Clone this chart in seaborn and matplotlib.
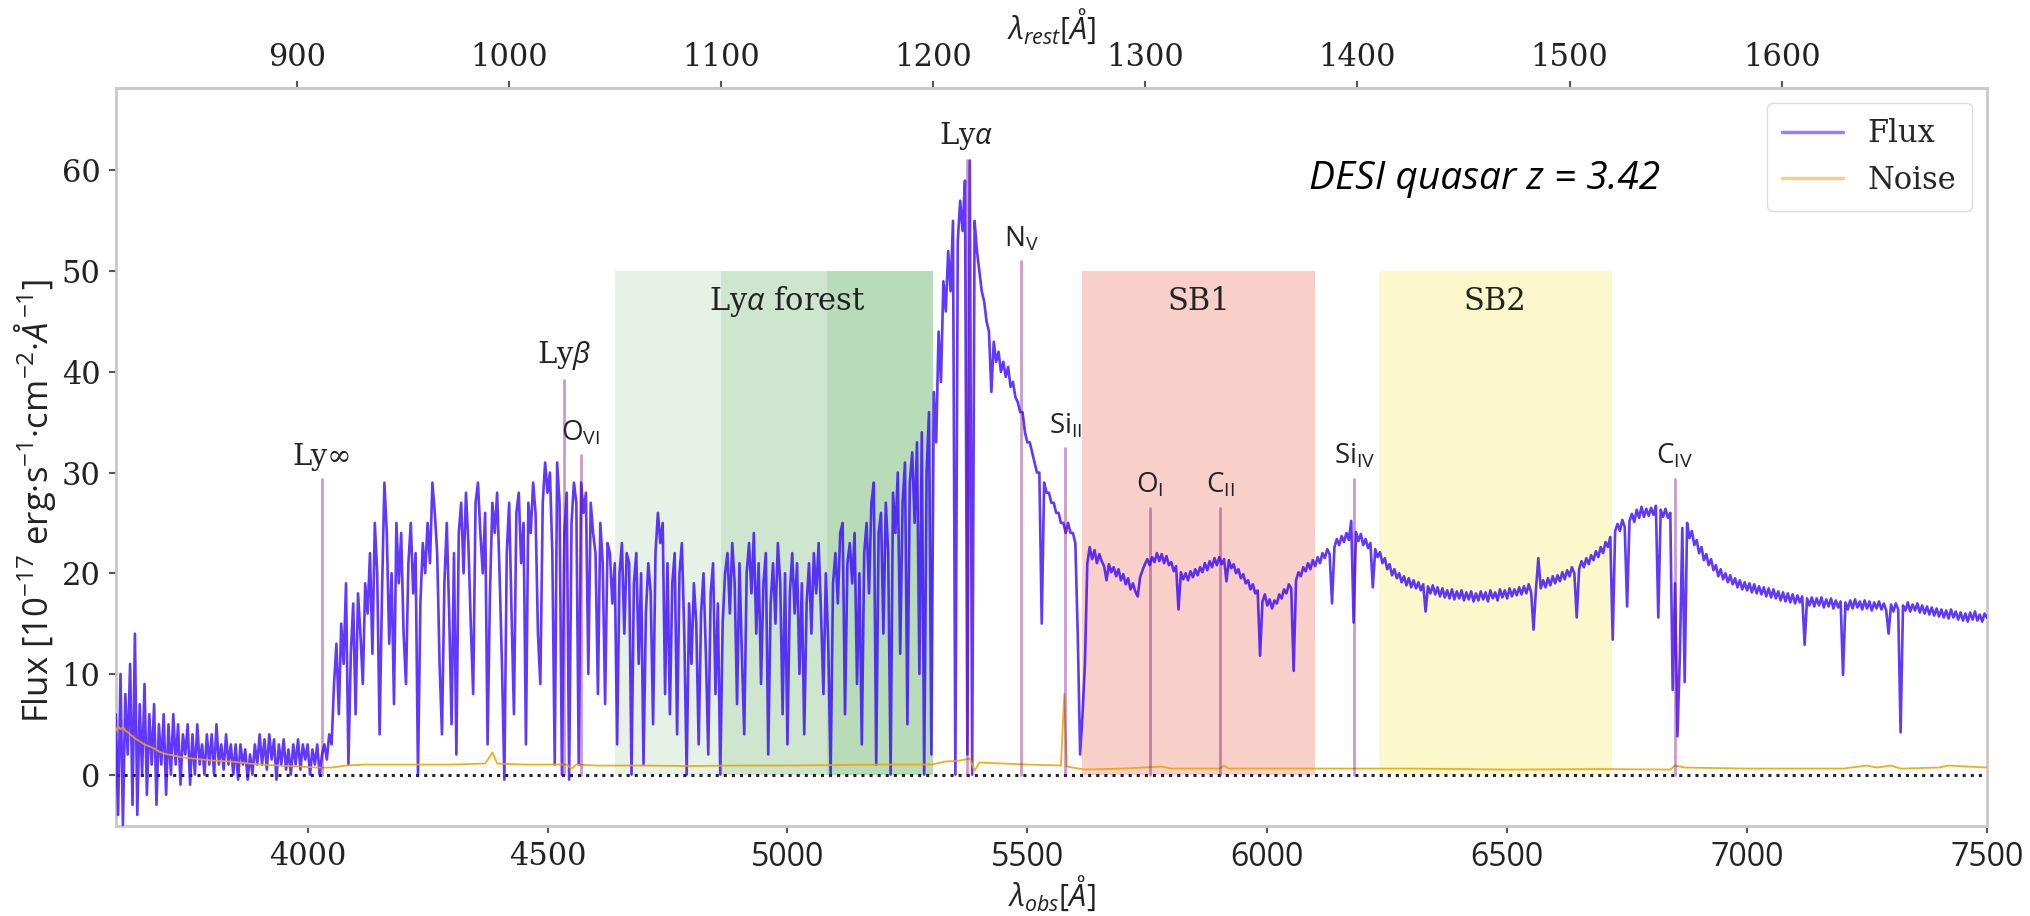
import numpy as np
import matplotlib
matplotlib.use('Agg')
import matplotlib.pyplot as plt
import seaborn as sns
import pandas as pd

# ---------------- data ----------------
Z = 3.42
STEP = 5.0

# observed flux, 5 A sampling, by segment (start wavelength given separately)
flux_blue = [6, -4, 10, -5, 8, 2, 11, -3, 14, -4,
             7, 0, 9, -2, 6, 1, 7, -3, 5, 1,
             6, -2, 5, 0, 6, 1, 5, -1, 4, 2,
             5, -1, 4, 0, 5, 1, 3, 0, 4, 1,
             4, 0, 5, 1, 3, 0.5, 4, 1, 3, 0,
             3, -0.5, 3, 1, 2.5, -0.5, 2, 0, 3, 1,
             4, 1, 3.5, 0.5, 4, 1.5, 3.5, -0.5, 3, 1,
             3.5, 0.5, 2.5, 0, 3, 1, 3.5, 0.5, 3, 1.5,
             3, 0, 2.5, 1, 3, 0, 2, 3, 1.5, 4]
flux_forest = [3, 9, 13, 6, 15, 11, 19, 1, 12, 17,
               6, 18, 14, 9, 19, 16, 22, 12, 25, 20,
               4, 18, 29, 24, 13, 20, 7, 25, 19, 24,
               14, 9, 21, 25, 18, 22, 0, 17, 23, 20,
               25, 21, 29, 26, 22, 11, 4, 19, 25, 16,
               5, 22, 2, 24, 27, 20, 28, 23, 15, 8,
               27, 29, 24, 20, 26, 3, 18, 27, 24, 28,
               20, 11, -0.5, 22, 27, 16, 6, 26, 28, 21,
               25, 3, 27, 24, 29, 26, 14, 9, 27, 31,
               28, 30, 22, 1, 31, 27, 0, 24, 28, -0.5,
               25, 29, 27, 1, 29, 26, 28, 10, 27, 24,
               22, 8, 25, 21, 7, 23, 22, 17, 21, 3,
               20, 23, 14, 22, 21, 0, 19, 22, 11, 20,
               1, 16, 21, 18, 5, 22, 26, 23, 25, 8,
               21, 6, 19, 22, 4, 20, 23, 14, 0, 17,
               11, 19, 15, 3, 16, 20, 12, 2, 18, 21,
               8, 17, 0, 15, 20, 22, 16, 23, 19, 7,
               21, 12, 4, 20, 23, 18, 24, 14, 21, 9,
               19, 22, 2, 17, 21, 15, 23, 19, 6, 20,
               3, 18, 22, 16, 21, 10, 19, 4, 17, 21,
               14, 22, 18, 23, 16, 8, 20, 13, 0, 19,
               22, 17, 24, 25, 6, 21, 23, 19, 24, 9,
               20, 3, 22, 25, 18, 27, 29, 1, 24, 26,
               14, 27, 22, 0, 28, 24, 30, 12, 27, 31,
               5, 29, 32, 25, 33, 10, 34, 0, 30, 36,
               2, 38, 33, 44, 39, 49]
flux_lya = [46, 52, 48, 55, 0, 53, 57, 54, 59, 2,
            61, 0, 55, 52, 50, 48, 47, 45, 44, 38,
            43, 41, 42, 40, 41, 39.5, 40.5, 38.5, 39, 37.5,
            37, 36, 36, 34, 33, 33, 32, 31, 30, 30,
            15, 29, 28, 28, 27, 27, 26, 26, 25, 25,
            24, 25, 24, 24, 23, 14, 2, 6, 11, 21]
flux_sb1_a = [22.6, 21.4, 22.3, 21.0, 21.9, 21.2, 20.7, 19.3, 20.9, 20.1,
              20.6, 19.7, 20.4, 19.3, 19.9, 18.9, 19.5, 18.4, 19.0, 18.2,
              17.7, 19.6, 20.3, 20.9, 21.4, 20.8, 21.6, 21.1, 22.0, 21.2,
              21.9, 21.0, 21.7, 20.8, 21.1]
flux_sb1_b = [20.2, 20.7, 16.4, 20.1, 19.4, 20.0, 19.3, 20.2, 19.6, 20.4,
              19.8, 20.6, 20.1, 21.0, 20.3, 21.2, 20.6, 21.5, 20.8, 21.6,
              20.9, 21.4, 19.2, 21.3, 20.5, 20.9, 20.0, 20.4, 19.5, 19.9,
              19.0, 19.3, 18.4, 18.9, 18.0, 18.3, 11.8, 17.2, 17.9, 16.8]
flux_sb1_c = [17.4, 16.5, 17.3, 17.0, 17.9, 17.5, 18.4, 18.0, 18.9, 18.5,
              10.3, 19.3, 20.1, 19.7, 20.6, 20.2, 21.0, 20.4, 21.3, 20.7,
              21.6, 21.0, 22.0, 21.5, 22.4, 21.9, 17.0, 22.6, 23.4, 22.8,
              23.7, 23.1, 24.0, 23.3, 25.2, 15.1, 24.1, 23.2, 23.9, 22.8]
flux_siiv = [23.4, 22.5, 23.0, 18.6, 22.4, 21.6, 22.1, 21.0, 21.5, 20.4,
             20.9, 19.8, 20.4, 19.5, 20.0, 19.1, 19.7, 18.8, 19.5, 18.6,
             19.3, 18.5, 19.1, 18.3, 18.9, 16.2, 18.7, 18.0, 18.8, 17.9,
             18.6, 17.7, 18.5, 17.6, 18.3, 17.5, 18.4, 17.4, 18.2, 17.5]
flux_sb2 = [18.3, 17.3, 18.1, 17.4, 18.2, 17.2, 18.0, 17.3, 18.2, 17.4,
            18.1, 17.2, 18.3, 17.5, 18.1, 17.3, 18.4, 17.6, 18.3, 17.5,
            18.5, 17.7, 18.4, 17.8, 18.6, 17.9, 18.7, 18.0, 18.9, 18.1,
            14.4, 18.4, 21.5, 18.5, 19.3, 18.6, 19.5, 18.8, 19.7, 19.0]
flux_civ_blue = [19.8, 19.2, 20.1, 19.4, 20.3, 19.7, 20.6, 20.0, 15.6, 20.4,
                 21.2, 20.6, 21.5, 20.9, 21.8, 21.3, 22.2, 21.6, 22.6, 22.0,
                 23.1, 22.6, 23.6, 13.4, 24.2, 24.9, 24.2, 25.3, 24.6, 16.7,
                 25.2, 25.9, 25.1, 26.3, 25.5, 26.6, 25.6, 26.4, 25.7, 26.5]
flux_civ_red = [25.8, 26.7, 15.6, 26.3, 25.6, 26.4, 25.5, 26.0, 8.4, 19.0,
                3.8, 12.0, 24.5, 9.2, 25.0, 23.5, 24.2, 22.8, 23.3, 22.0,
                22.6, 21.3, 21.9, 20.8, 21.4, 20.3, 20.8, 19.7, 20.4, 19.4,
                20.0, 19.1, 19.8, 18.9, 19.5, 18.6, 19.3, 18.4, 19.1, 18.3]
flux_red_a = [19.0, 18.1, 18.9, 18.0, 18.7, 17.9, 18.6, 17.7, 18.5, 17.6,
              18.4, 17.5, 18.2, 17.3, 18.1, 17.2, 18.0, 17.1, 17.9, 17.0,
              17.8, 17.1, 17.7, 12.9, 17.5, 16.8, 17.6, 16.7, 17.5, 16.8,
              17.6, 16.6, 17.4, 16.7, 17.5, 16.5, 17.3, 16.6, 17.2, 9.9,
              17.1, 16.4, 17.3, 16.5, 17.4, 16.6, 17.2, 16.4, 17.3, 16.5]
flux_red_b = [17.2, 16.3, 17.1, 16.5, 17.2, 16.4, 17.0, 16.3, 14.0, 16.9,
              16.2, 17.0, 16.4, 4.2, 16.8, 16.3, 17.1, 16.2, 16.9, 16.3,
              17.0, 16.1, 16.8, 16.0, 16.7, 15.9, 16.6, 15.8, 16.5, 15.7,
              16.4, 15.6, 16.3, 15.5, 16.4, 15.6, 16.2, 15.4, 16.1, 15.3,
              16.0, 15.2, 16.1, 15.4, 16.2, 15.3, 15.9, 15.2, 16.0, 15.6]
segment_starts = [3600, 4050, 5330, 5630, 5805, 6005, 6205, 6405, 6605, 6805, 7005, 7255]
segment_fluxes = [flux_blue, flux_forest, flux_lya, flux_sb1_a, flux_sb1_b, flux_sb1_c,
                  flux_siiv, flux_sb2, flux_civ_blue, flux_civ_red, flux_red_a, flux_red_b]

noise_wave = [3600, 3605, 3610, 3615, 3620, 3630, 3640, 3650, 3660, 3670, 3680, 3690,
              3700, 3720, 3740, 3760, 3780, 3800, 3820, 3840, 3860, 3880, 3900, 3940,
              3980, 4020, 4050, 4080, 4120, 4200, 4300, 4370, 4385, 4395, 4450, 4540,
              4550, 4560, 4600, 4700, 4800, 4900, 5000, 5100, 5200, 5300, 5330, 5360,
              5380, 5390, 5400, 5450, 5500, 5570, 5577, 5582, 5620, 5700, 5780, 5800,
              5900, 5910, 5920, 6100, 6200, 6300, 6500, 6700, 6840, 6850, 6870, 7000,
              7200, 7250, 7270, 7300, 7320, 7400, 7420, 7500]
noise_vals = [4.3, 4.8, 4.5, 4.7, 4.4, 4.0, 3.6, 3.3, 3.0, 2.8, 2.6, 2.3,
              2.1, 1.9, 1.7, 1.6, 1.5, 1.4, 1.35, 1.3, 1.2, 1.1, 1.0, 0.9,
              0.8, 0.7, 0.7, 0.9, 1.0, 1.0, 1.0, 1.1, 2.2, 1.1, 1.0, 1.0,
              0.6, 1.0, 0.9, 0.9, 0.85, 0.9, 0.9, 0.95, 1.0, 1.0, 1.3, 1.4,
              1.6, 0.4, 1.2, 1.1, 1.0, 0.9, 8.0, 0.8, 0.5, 0.6, 0.8, 0.6,
              0.6, 0.9, 0.6, 0.6, 0.6, 0.6, 0.5, 0.55, 0.5, 0.9, 0.7, 0.6,
              0.6, 0.9, 0.7, 0.9, 0.6, 0.7, 0.9, 0.7]

line_names = ['Ly∞', r'Ly$\beta$', r'O$_{\mathrm{VI}}$', r'Ly$\alpha$', r'N$_{\mathrm{V}}$',
              r'Si$_{\mathrm{II}}$', r'O$_{\mathrm{I}}$', r'C$_{\mathrm{II}}$',
              r'Si$_{\mathrm{IV}}$', r'C$_{\mathrm{IV}}$']
line_rest = [911.75, 1025.72, 1033.83, 1215.67, 1241.5, 1262.3, 1302.17, 1335.31, 1398.5, 1549.5]
line_top = [29.4, 39.2, 31.7, 61.0, 51.0, 32.4, 26.5, 26.5, 29.4, 29.4]
line_serif = [True, True, False, True, False, False, False, False, False, False]

forest_bands_rest = [(1050, 1200), (1100, 1200), (1150, 1200)]
sb1_rest = (1270, 1380)
sb2_rest = (1410, 1520)
band_top = 50

obs_ticks = [4000, 4500, 5000, 5500, 6000, 6500, 7000, 7500]
serif_obs_ticks = [4000, 4500]
rest_ticks = [900, 1000, 1100, 1200, 1300, 1400, 1500, 1600]
y_ticks = [0, 10, 20, 30, 40, 50, 60]

# ---------------- build frames ----------------
waves, fluxes = [], []
for start, seg in zip(segment_starts, segment_fluxes):
    waves.append(start + STEP * np.arange(len(seg)))
    fluxes.append(np.asarray(seg, dtype=float))
spec = pd.DataFrame({'wave': np.concatenate(waves), 'flux': np.concatenate(fluxes)})
noise = pd.DataFrame({'wave': noise_wave, 'noise': noise_vals})

# ---------------- style ----------------
sns.set_theme(style='ticks')
plt.rcParams['font.family'] = ['DejaVu Serif', 'DejaVu Sans']
plt.rcParams['mathtext.fontset'] = 'custom'
plt.rcParams['mathtext.rm'] = 'Open Sans'
plt.rcParams['mathtext.it'] = 'Open Sans:italic'
plt.rcParams['mathtext.bf'] = 'Open Sans:bold'

SANS = 'Open Sans'
SERIF = 'DejaVu Serif'
SPINE = '#c8c8c8'

fig = plt.figure(figsize=(20.3, 9.16), dpi=100)
ax = fig.add_axes([0.057, 0.0983, 0.9218, 0.8057])

to_obs = lambda r: r * (1 + Z)

# shaded regions
for lo, hi in forest_bands_rest:
    ax.fill_between([to_obs(lo), to_obs(hi)], 0, band_top, color='green', alpha=0.1, lw=0, zorder=0)
ax.fill_between([to_obs(sb1_rest[0]), to_obs(sb1_rest[1])], 0, band_top, color='#e8412f', alpha=0.25, lw=0, zorder=0)
ax.fill_between([to_obs(sb2_rest[0]), to_obs(sb2_rest[1])], 0, band_top, color='#f2e21a', alpha=0.22, lw=0, zorder=0)

ax.text(to_obs(1131), 47, r'Ly$\alpha$ forest', family=SERIF, fontsize=22, ha='center', va='center', color='#222222')
ax.text(to_obs(sum(sb1_rest) / 2), 47, 'SB1', family=SERIF, fontsize=22, ha='center', va='center', color='#222222')
ax.text(to_obs(sum(sb2_rest) / 2), 47, 'SB2', family=SERIF, fontsize=22, ha='center', va='center', color='#222222')

# spectra
sns.lineplot(data=spec, x='wave', y='flux', ax=ax, color='#3300ff', lw=1.9, alpha=0.78,
             estimator=None, sort=False, label='Flux', zorder=3)
sns.lineplot(data=noise, x='wave', y='noise', ax=ax, color='#f0a500', lw=1.3, alpha=0.9,
             estimator=None, sort=False, label='Noise', zorder=4)
ax.axhline(0, color='#222222', ls=':', lw=2.2, zorder=2)

# emission-line markers
for name, rest, top, serif in zip(line_names, line_rest, line_top, line_serif):
    x = to_obs(rest)
    ax.plot([x, x], [0, top], color='purple', alpha=0.4, lw=2, zorder=5)
    ax.text(x, top + 0.8, name, ha='center', va='bottom', fontsize=21 if serif else 20,
            family=SERIF if serif else SANS, color='#222222')

ax.text(6453, 59.2, 'DESI quasar z = 3.42', family=SANS, style='italic', fontsize=28,
        ha='center', va='center', color='black')

# axes
ax.set_xlim(3600, 7500)
ax.set_ylim(-5.1, 68.2)
ax.set_xticks(obs_ticks)
ax.set_xticklabels([str(t) for t in obs_ticks])
for lbl, t in zip(ax.get_xticklabels(), obs_ticks):
    lbl.set_family(SERIF if t in serif_obs_ticks else SANS)
    lbl.set_fontsize(22 if t in serif_obs_ticks else 23)
ax.set_yticks(y_ticks)
ax.set_yticklabels([str(t) for t in y_ticks], family=SERIF, fontsize=22)
ax.tick_params(axis='both', length=5, width=1.5, color='#555555', labelcolor='#222222', pad=6)
for s in ax.spines.values():
    s.set_color(SPINE)
    s.set_linewidth(2)

ax.set_xlabel(r'$\lambda_{obs}[\AA]$', fontsize=22, labelpad=0, color='#222222')
ax.set_ylabel(r'Flux [10$^{-17}$ erg·s$^{-1}$·cm$^{-2}$·$\mathit{Å}^{-1}$]', family=SANS,
              fontsize=25, color='#222222')
ax.yaxis.set_label_coords(-0.031, 0.44)

sec = ax.secondary_xaxis('top', functions=(lambda x: x / (1 + Z), lambda x: x * (1 + Z)))
sec.set_xticks(rest_ticks)
sec.set_xticklabels([str(t) for t in rest_ticks], family=SERIF, fontsize=22)
sec.tick_params(length=5, width=1.5, color='#555555', labelcolor='#222222', pad=6)
sec.spines['top'].set_color(SPINE)
sec.spines['top'].set_linewidth(2)
sec.set_xlabel(r'$\lambda_{rest}[\AA]$', fontsize=22, labelpad=2, color='#222222')

leg = ax.legend(loc='upper right', prop={'family': SERIF, 'size': 22}, frameon=True,
                fancybox=True, edgecolor='#dddddd', framealpha=1, handlelength=2.0,
                borderaxespad=0.5, borderpad=0.5)
for h in leg.get_lines():
    h.set_linewidth(2.5)
    h.set_alpha(0.5)

fig.savefig('out.png', dpi=100)
